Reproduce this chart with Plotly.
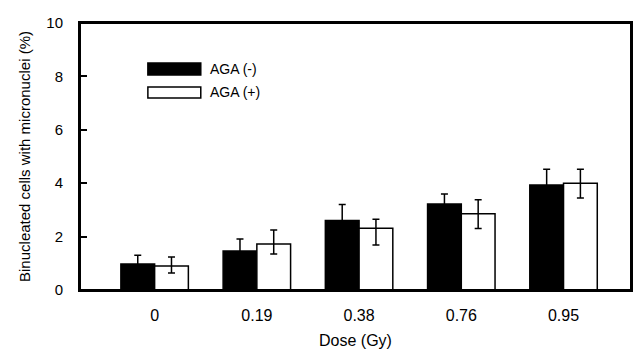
import plotly.graph_objects as go

doses = ["0", "0.19", "0.38", "0.76", "0.95"]
aga_minus = [0.97, 1.46, 2.60, 3.22, 3.93]
aga_minus_err = [0.33, 0.45, 0.60, 0.38, 0.59]
aga_plus = [0.90, 1.72, 2.31, 2.86, 4.00]
aga_plus_err_up = [0.34, 0.53, 0.34, 0.52, 0.52]
aga_plus_err_down = [0.26, 0.37, 0.62, 0.56, 0.55]

FONT = "Liberation Sans, Arial, sans-serif"

fig = go.Figure()
fig.add_trace(go.Bar(
    x=doses, y=aga_minus, name="AGA (-)",
    marker=dict(color="black", line=dict(color="black", width=1.5)),
    error_y=dict(type="data", array=aga_minus_err, visible=True,
                 color="black", thickness=1.5, width=3.5),
    showlegend=False,
))
fig.add_trace(go.Bar(
    x=doses, y=aga_plus, name="AGA (+)",
    marker=dict(color="white", line=dict(color="black", width=1.5)),
    error_y=dict(type="data", symmetric=False, array=aga_plus_err_up,
                 arrayminus=aga_plus_err_down, visible=True,
                 color="black", thickness=1.5, width=3.5),
    showlegend=False,
))

# legend drawn as swatches + labels in paper coordinates
x0, x1 = (148 - 80) / 552, (201 - 80) / 552
shapes = [
    dict(type="rect", xref="paper", yref="paper", x0=0, x1=1, y0=0, y1=1,
         line=dict(color="black", width=2), fillcolor="rgba(0,0,0,0)"),
    dict(type="rect", xref="paper", yref="paper", x0=x0, x1=x1,
         y0=(290 - 75) / 267, y1=(290 - 63) / 267,
         fillcolor="black", line=dict(color="black", width=1.5)),
    dict(type="rect", xref="paper", yref="paper", x0=x0, x1=x1,
         y0=(290 - 98) / 267, y1=(290 - 87) / 267,
         fillcolor="white", line=dict(color="black", width=1.5)),
]
annotations = [
    dict(text="AGA (-)", xref="paper", yref="paper", x=(208 - 80) / 552,
         y=(290 - 69) / 267, xanchor="left", yanchor="middle", showarrow=False,
         font=dict(family=FONT, size=14, color="black")),
    dict(text="AGA (+)", xref="paper", yref="paper", x=(208 - 80) / 552,
         y=(290 - 92.5) / 267, xanchor="left", yanchor="middle", showarrow=False,
         font=dict(family=FONT, size=14, color="black")),
]

fig.update_layout(
    autosize=True,
    margin=dict(l=80, r=3, t=23, b=61, autoexpand=False),
    paper_bgcolor="white", plot_bgcolor="white",
    barmode="group", bargap=0.34, bargroupgap=0,
    font=dict(family=FONT, size=15, color="black"),
    shapes=shapes, annotations=annotations,
    xaxis=dict(
        range=[-0.73, 4.66], showline=True, linecolor="black", linewidth=2,
        mirror=True, ticks="", showgrid=False, zeroline=False,
        tickfont=dict(size=16), ticklabelstandoff=10, automargin=False,
        title=dict(text="Dose (Gy)", font=dict(size=16), standoff=12),
    ),
    yaxis=dict(
        range=[0, 10], tickvals=[0, 2, 4, 6, 8, 10], showline=True,
        linecolor="black", linewidth=2, mirror=True, ticks="inside",
        ticklen=7, tickwidth=2, tickcolor="black", showgrid=False,
        zeroline=False, tickfont=dict(size=15), ticklabelstandoff=12,
        automargin=False,
        title=dict(text="Binucleated cells with micronuclei (%)",
                   font=dict(size=15), standoff=12),
    ),
)

fig.write_html(
    "out.html",
    config={"displayModeBar": False, "responsive": True},
    default_width="100vw", default_height="100vh",
    post_script=(
        "document.documentElement.style.margin='0';"
        "document.documentElement.style.overflow='hidden';"
        "document.body.style.margin='0';document.body.style.overflow='hidden';"
        "Plotly.Plots.resize(document.getElementById('{plot_id}'));"
    ),
)
